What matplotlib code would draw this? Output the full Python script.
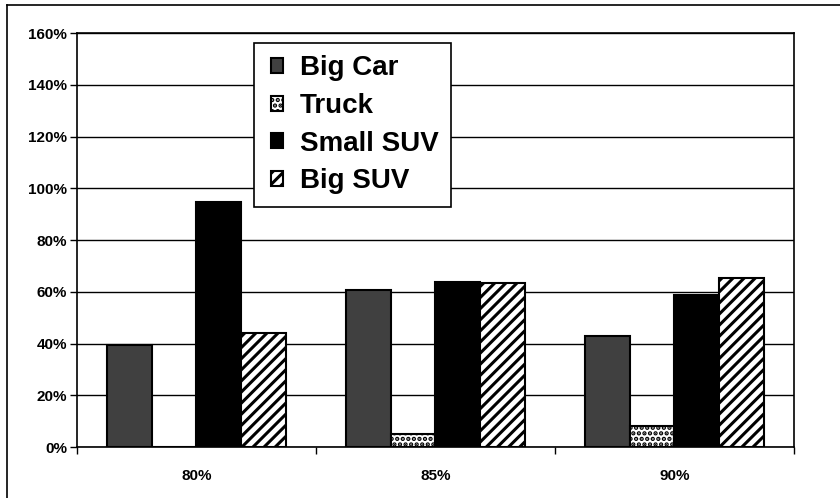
import numpy as np
import matplotlib.pyplot as plt
from matplotlib.lines import Line2D
from matplotlib.legend_handler import HandlerPatch

plt.rcParams['font.family'] = ['Liberation Sans', 'DejaVu Sans']
plt.rcParams['hatch.linewidth'] = 2.2

# data
categories = ['80%', '85%', '90%']
series = ['Big Car', 'Truck', 'Small SUV', 'Big SUV']
big_car = [39.5, 60.6, 42.9]
truck = [0.0, 4.9, 8.0]
small_suv = [94.7, 63.9, 58.6]
big_suv = [44.2, 63.4, 65.4]
y_ticks = [0, 20, 40, 60, 80, 100, 120, 140, 160]

values = [big_car, truck, small_suv, big_suv]
faces = ['#404040', 'white', 'black', 'white']
hatches = [None, '...', None, '///']

fig = plt.figure(figsize=(8.4, 4.98), dpi=100)
ax = fig.add_axes([0.0917, 0.1024, 0.8533, 0.8313])

x = np.arange(len(categories))
width = 0.1875
handles = []
for i, (vals, fc, h) in enumerate(zip(values, faces, hatches)):
    offs = (i - 1.5) * width
    bars = ax.bar(x + offs, vals, width, color=fc, edgecolor='black',
                  hatch=h, linewidth=1.5, zorder=3, label=series[i])
    handles.append(bars.patches[0])

ax.set_ylim(0, 160)
ax.set_xlim(-0.5, 2.5)
ax.set_yticks(y_ticks)
ax.set_yticklabels([f'{v}%' for v in y_ticks], fontsize=11, fontweight='bold')
ax.yaxis.grid(True, color='black', linewidth=1, zorder=0)

# category labels centred, ticks at the boundaries
ax.set_xticks([-0.5, 0.5, 1.5, 2.5])
ax.set_xticklabels([])
ax.set_xticks(x, minor=True)
ax.set_xticklabels(categories, minor=True, fontsize=11, fontweight='bold')
ax.tick_params(axis='x', which='minor', length=0, pad=16)
ax.tick_params(axis='x', which='major', direction='out', length=5, width=1)
ax.tick_params(axis='y', direction='out', length=5, width=1, pad=2)

for s in ax.spines.values():
    s.set_color('black')
    s.set_linewidth(1.2)

leg = ax.legend(handles=handles, labels=series, loc='upper left',
                bbox_to_anchor=(0.247, 0.976), frameon=True, fancybox=False,
                edgecolor='black', framealpha=1,
                prop={'family': 'Liberation Sans', 'weight': 'bold', 'size': 20},
                handler_map={h: HandlerPatch(xpad=0.16) for h in handles},
                handlelength=0.6, handleheight=0.45, handletextpad=0.6,
                labelspacing=0.42, borderpad=0.45, borderaxespad=0)
leg.get_frame().set_linewidth(1.2)
leg.set_zorder(5)

# outer frame: only top and left edges show in the reference
fig.add_artist(Line2D([7 / 840, 7 / 840], [0, 1 - 5 / 498], color='black', linewidth=1.2))
fig.add_artist(Line2D([7 / 840, 1], [1 - 5 / 498, 1 - 5 / 498], color='black', linewidth=1.2))

fig.savefig('out.png', dpi=100)
